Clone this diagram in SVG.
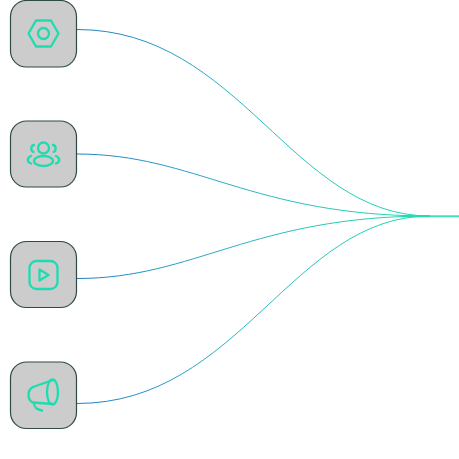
<svg xmlns="http://www.w3.org/2000/svg" width="459" height="459" viewBox="0 0 459 459">
<defs>
<linearGradient id="w" gradientUnits="userSpaceOnUse" x1="77" y1="0" x2="420" y2="0"><stop offset="0" stop-color="#1f7fc4"/><stop offset="0.5" stop-color="#2bb5c5"/><stop offset="1" stop-color="#1fdcb0"/></linearGradient>
</defs>
<style>
.box{fill:#cccccc;stroke:#2f4a44;stroke-width:1.2}
.ic{fill:none;stroke:#1fdcb0;stroke-width:2.300;stroke-linecap:round;stroke-linejoin:round}
.wire{fill:none;stroke:url(#w);stroke-width:1}
</style>
<g id="connectors">
<path class="wire" d="M77 29.500C240 29.500 292 216 430 216"/>
<path class="wire" d="M77 154C195 154 252 216 430 216"/>
<path class="wire" d="M77 278.500C195 278.500 252 216 430 216"/>
<path class="wire" d="M77 403.500C240 403.500 292 216 430 216"/>
<path d="M402 216.300H459" fill="none" stroke="#1fdcb0" stroke-opacity="0.85" stroke-width="2"/>
</g>
<g id="node-1"><rect class="box" x="10.500" y="0.500" width="66" height="66.500" rx="16"/>
<path class="ic" d="M28.500 33.500L36 20.500H51L58.500 33.500L51 46.500H36Z"/><circle class="ic" cx="43.500" cy="33.500" r="5.500"/></g>
<g id="node-2"><rect class="box" x="10.500" y="121" width="66" height="66" rx="16"/>
<circle class="ic" cx="43.500" cy="148" r="5.500"/><ellipse class="ic" cx="43.500" cy="161" rx="9.500" ry="5"/>
<path class="ic" d="M34 145C30.500 145.500 30.500 151 33.500 152M53 145C56.500 145.500 56.500 151 53.500 152M31 156C26.500 158 27 162 31 163.500M56 156C60.500 158 60 162 56 163.500"/></g>
<g id="node-3"><rect class="box" x="10.500" y="241.500" width="66" height="66" rx="16"/>
<rect class="ic" x="29.500" y="261" width="28" height="28" rx="7"/><path class="ic" d="M39.500 269.500L48.500 275L39.500 280.500Z"/></g>
<g id="node-4"><rect class="box" x="10.500" y="362" width="66" height="66.500" rx="16"/>
<path class="ic" d="M53 380L33 387C27 390 27 400 33 402.500L53 404"/><ellipse class="ic" cx="52.500" cy="392" rx="5.500" ry="12.500"/>
<path class="ic" d="M34 403C34 408 37 409.500 42 410.500"/></g>
</svg>
